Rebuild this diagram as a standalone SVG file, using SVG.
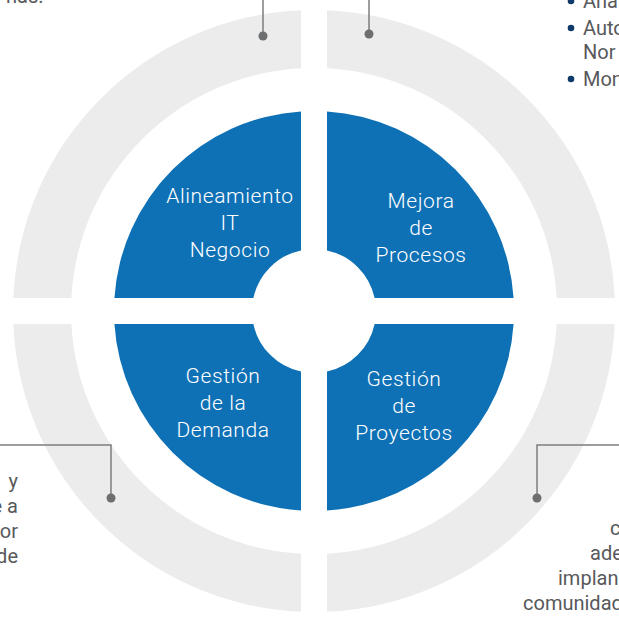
<svg xmlns="http://www.w3.org/2000/svg" width="619" height="619" viewBox="0 0 619 619">
<defs>
<style>
.ring{fill:#ebeceb}
.quad{fill:#0f71b5}
.lbl{font-family:Roboto,"Liberation Sans",sans-serif;font-weight:300;font-size:21px;fill:#ffffff;text-anchor:middle;letter-spacing:0.6px}
.side{font-family:Roboto,"Liberation Sans",sans-serif;font-weight:400;font-size:20px;fill:#58595b}
.conn{fill:none;stroke:#7d7d7d;stroke-width:1.5}
.dot{fill:#6d6e70}
.bullet{fill:#0d3a6a}
</style>
</defs>
<rect width="619" height="619" fill="#ffffff"/>
<g id="outer-ring">
<path class="ring" d="M301 10.28 A301 301 0 0 0 13.28 298 L71.35 298 A243 243 0 0 1 301 68.35 Z"/>
<path class="ring" d="M327 10.28 A301 301 0 0 1 614.72 298 L556.65 298 A243 243 0 0 0 327 68.35 Z"/>
<path class="ring" d="M614.72 324 A301 301 0 0 1 327 611.72 L327 553.65 A243 243 0 0 0 556.65 324 Z"/>
<path class="ring" d="M301 611.72 A301 301 0 0 1 13.28 324 L71.35 324 A243 243 0 0 0 301 553.65 Z"/>
</g>
<g id="node-alineamiento">
<path class="quad" d="M301 111.42 A200 200 0 0 0 114.42 298 L253.38 298 A62 62 0 0 1 301 250.38 Z"/>
<text class="lbl" x="230" y="203">Alineamiento</text>
<text class="lbl" x="230" y="230">IT</text>
<text class="lbl" x="230" y="257">Negocio</text>
</g>
<g id="node-mejora">
<path class="quad" d="M327 111.42 A200 200 0 0 1 513.58 298 L374.62 298 A62 62 0 0 0 327 250.38 Z"/>
<text class="lbl" x="421" y="208">Mejora</text>
<text class="lbl" x="421" y="235">de</text>
<text class="lbl" x="421" y="262">Procesos</text>
</g>
<g id="node-proyectos">
<path class="quad" d="M513.58 324 A200 200 0 0 1 327 510.58 L327 371.62 A62 62 0 0 0 374.62 324 Z"/>
<text class="lbl" x="404" y="386">Gestión</text>
<text class="lbl" x="404" y="413">de</text>
<text class="lbl" x="404" y="440">Proyectos</text>
</g>
<g id="node-demanda">
<path class="quad" d="M301 510.58 A200 200 0 0 1 114.42 324 L253.38 324 A62 62 0 0 0 301 371.62 Z"/>
<text class="lbl" x="223" y="383">Gestión</text>
<text class="lbl" x="223" y="410">de la</text>
<text class="lbl" x="223" y="437">Demanda</text>
</g>
<g id="connectors">
<path class="conn" d="M263 0 V36"/>
<path class="conn" d="M369 0 V34"/>
<path class="conn" d="M0 445 H111 V498"/>
<path class="conn" d="M619 445 H537 V498"/>
<circle class="dot" cx="263" cy="36" r="4.5"/>
<circle class="dot" cx="369" cy="34" r="4.5"/>
<circle class="dot" cx="111" cy="498" r="4.5"/>
<circle class="dot" cx="537" cy="498" r="4.5"/>
</g>
<g id="text-top-left">
<text class="side" x="6" y="3">nas.</text>
</g>
<g id="text-top-right">
<circle class="bullet" cx="571" cy="1" r="3.3"/>
<circle class="bullet" cx="571" cy="28" r="3.3"/>
<circle class="bullet" cx="571" cy="79" r="3.3"/>
<text class="side" x="583" y="8">Aná</text>
<text class="side" x="583" y="35">Auto</text>
<text class="side" x="583" y="59">Nor</text>
<text class="side" x="583" y="86">Mon</text>
</g>
<g id="text-bottom-left">
<text class="side" x="18" y="488" text-anchor="end">y</text>
<text class="side" x="18" y="513" text-anchor="end">e a</text>
<text class="side" x="18" y="538" text-anchor="end">or</text>
<text class="side" x="18" y="563" text-anchor="end">de</text>
</g>
<g id="text-bottom-right">
<text class="side" x="610" y="535">c</text>
<text class="side" x="590" y="560">ade</text>
<text class="side" x="558" y="585">implan</text>
<text class="side" x="523" y="610">comunidad</text>
</g>
</svg>
